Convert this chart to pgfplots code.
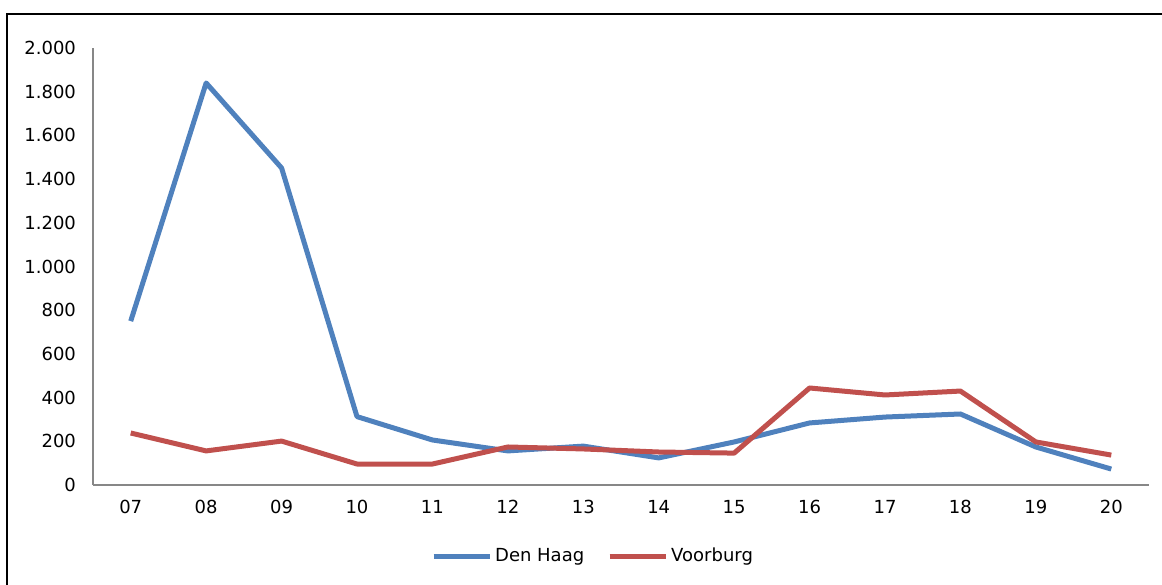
\documentclass[border=0pt]{standalone}
\usepackage{pgfplots}
\pgfplotsset{compat=1.18}
\usepackage{fontspec}
\setmainfont{DejaVu Sans}

\definecolor{dhblue}{HTML}{4F81BD}
\definecolor{vbred}{HTML}{C0504D}

\pgfplotstableread{
x  denhaag voorburg
0  750  238
1  1840 156
2  1451 201
3  313  96
4  206  96
5  156  174
6  178  165
7  124  151
8  197  146
9  284  444
10 311  412
11 325  430
12 174  197
13 73   137
}\reistijden

\begin{document}
\begin{tikzpicture}
% picture size follows the reference (1 px = 0.5 pt)
\useasboundingbox (-46.5pt,-49.5pt) rectangle (534.5pt,242.5pt);
\draw[line width=1pt] (-42.75pt,-80pt) rectangle (600pt,235.25pt);
\begin{axis}[
  at={(0,0)}, anchor=south west,
  scale only axis,
  width=528pt, height=218.5pt,
  xmin=-0.5, xmax=13.5,
  ymin=0, ymax=2000,
  axis x line*=bottom,
  axis y line*=left,
  axis line style={draw=black!47, line width=0.6pt},
  major tick length=0pt,
  xtick={0,...,13},
  xticklabels={07,08,09,10,11,12,13,14,15,16,17,18,19,20},
  ytick={0,200,...,2000},
  /pgf/number format/.cd, 1000 sep={.}, assume math mode=true,
  /pgfplots/.cd,
  tick label style={font=\fontsize{9}{11}\selectfont},
  xticklabel style={yshift=-4pt},
  yticklabel style={xshift=-5pt},
  legend style={
    at={(0.474,-0.1625)}, anchor=center,
    draw=none, fill=none,
    legend columns=2,
    font=\fontsize{9}{11}\selectfont,
    /tikz/every even column/.append style={column sep=10pt},
    nodes={inner xsep=1.5pt},
  },
  legend image code/.code={\draw[#1] (0pt,0pt) -- (28pt,0pt);},
]
\addplot[dhblue, line width=2.5pt, line join=round] table[x=x, y=denhaag] {\reistijden};
\addlegendentry{Den Haag}
\addplot[vbred, line width=2.5pt, line join=round] table[x=x, y=voorburg] {\reistijden};
\addlegendentry{Voorburg}
\end{axis}
\end{tikzpicture}
\end{document}
